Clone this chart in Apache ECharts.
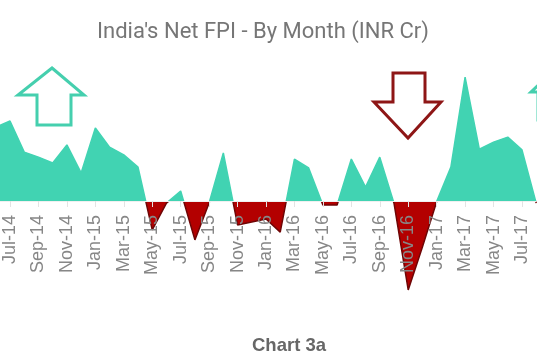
<!DOCTYPE html>
<html>
<head>
<meta charset="utf-8">
<script src="https://cdn.jsdelivr.net/npm/echarts@6/dist/echarts.min.js"></script>
<style>html,body{margin:0;padding:0;background:#fff;}#c{width:537px;height:360px;}</style>
</head>
<body>
<div id="c"></div>
<script>
const months = ['Jun-14','Jul-14','Aug-14','Sep-14','Oct-14','Nov-14','Dec-14','Jan-15','Feb-15','Mar-15','Apr-15','May-15','Jun-15','Jul-15','Aug-15','Sep-15','Oct-15','Nov-15','Dec-15','Jan-16','Feb-16','Mar-16','Apr-16','May-16','Jun-16','Jul-16','Aug-16','Sep-16','Oct-16','Nov-16','Dec-16','Jan-17','Feb-17','Mar-17','Apr-17','May-17','Jun-17','Jul-17','Aug-17'];
const netFPI = [34000,36800,22500,20200,17500,25800,12900,33600,24800,21200,15600,-13300,-1000,4600,-17900,-900,22100,-11000,-9700,-8300,-14300,19300,15200,-1800,-1800,19300,6400,20200,-1000,-40900,-21200,-300,15600,57000,23900,27100,29400,23500,-1000];
const titleText = "India's Net FPI - By Month (INR Cr)";
const captionText = 'Chart 3a';
const yMin = -45000, yMax = 60000;

const TEAL = '#41d3b2', RED = '#b30000', DARKRED = '#6e0505';

const chart = echarts.init(document.getElementById('c'), null, {renderer: 'canvas'});
const base = {
  animation: false,
  backgroundColor: '#fff',
  title: [
    {text: titleText, left: 92, top: 16, textStyle: {fontFamily: 'Roboto', fontSize: 22, fontWeight: 'normal', color: '#767676'}},
    {text: captionText, left: 247, top: 331, textStyle: {fontFamily: 'Liberation Sans', fontSize: 18.5, fontWeight: 'bold', color: '#676767'}}
  ],
  grid: {left: -4.2, right: 0.8, top: 70.6, bottom: 61.2, containLabel: false, outerBoundsMode: 'none'},
  xAxis: {
    type: 'category', data: months, boundaryGap: false, z: 5,
    axisLine: {show: true, onZero: false, lineStyle: {color: '#f0f0f0', width: 1}},
    axisTick: {show: true, interval: (i) => i % 2 === 1, length: 6, lineStyle: {color: '#e3e3e3'}},
    axisLabel: {interval: (i) => i % 2 === 1, rotate: 90, margin: 14, fontFamily: 'Liberation Sans', fontSize: 18, color: '#878787'}
  },
  yAxis: {type: 'value', min: yMin, max: yMax, show: true, axisLine: {show: false}, axisTick: {show: false}, axisLabel: {show: false}, splitLine: {show: false}},
  series: [
    {type: 'line', data: netFPI, symbol: 'none', lineStyle: {width: 0}, areaStyle: {opacity: 1, color: TEAL}, z: 2},
    {type: 'line', data: netFPI, symbol: 'none', lineStyle: {width: 1.5, color: TEAL}, z: 3}
  ],
  graphic: [
    {type: 'polygon', shape: {points: [[52,68],[84,95],[71,95],[71,125],[37,125],[37,95],[18,95]]}, style: {fill: 'none', stroke: '#45cfae', lineWidth: 3}},
    {type: 'polygon', shape: {points: [[393,73],[425,73],[425,102],[441,102],[408,138],[374,102],[393,102]]}, style: {fill: 'none', stroke: '#8e1616', lineWidth: 3}},
    {type: 'polygon', shape: {points: [[549,75],[568,92],[560,92],[560,120],[538,120],[538,92],[531,92]]}, style: {fill: 'none', stroke: '#45cfae', lineWidth: 3}}
  ]
};
chart.setOption(base);

// split colour at the zero line using the axis scale; move category axis to zero
const yTop = chart.convertToPixel({yAxisIndex: 0}, yMax);
const yBot = chart.convertToPixel({yAxisIndex: 0}, yMin);
const yZero = chart.convertToPixel({yAxisIndex: 0}, 0);
const off = (yZero - yTop) / (yBot - yTop);
function grad(pos, neg) {
  return new echarts.graphic.LinearGradient(0, yTop, 0, yBot, [
    {offset: 0, color: pos}, {offset: off, color: pos},
    {offset: off, color: neg}, {offset: 1, color: neg}
  ], true);
}
chart.setOption({
  xAxis: {offset: -(yBot - yZero)},
  series: [
    {areaStyle: {opacity: 1, color: grad(TEAL, RED)}},
    {lineStyle: {width: 1.5, color: grad(TEAL, DARKRED)}}
  ]
});
</script>
</body>
</html>
